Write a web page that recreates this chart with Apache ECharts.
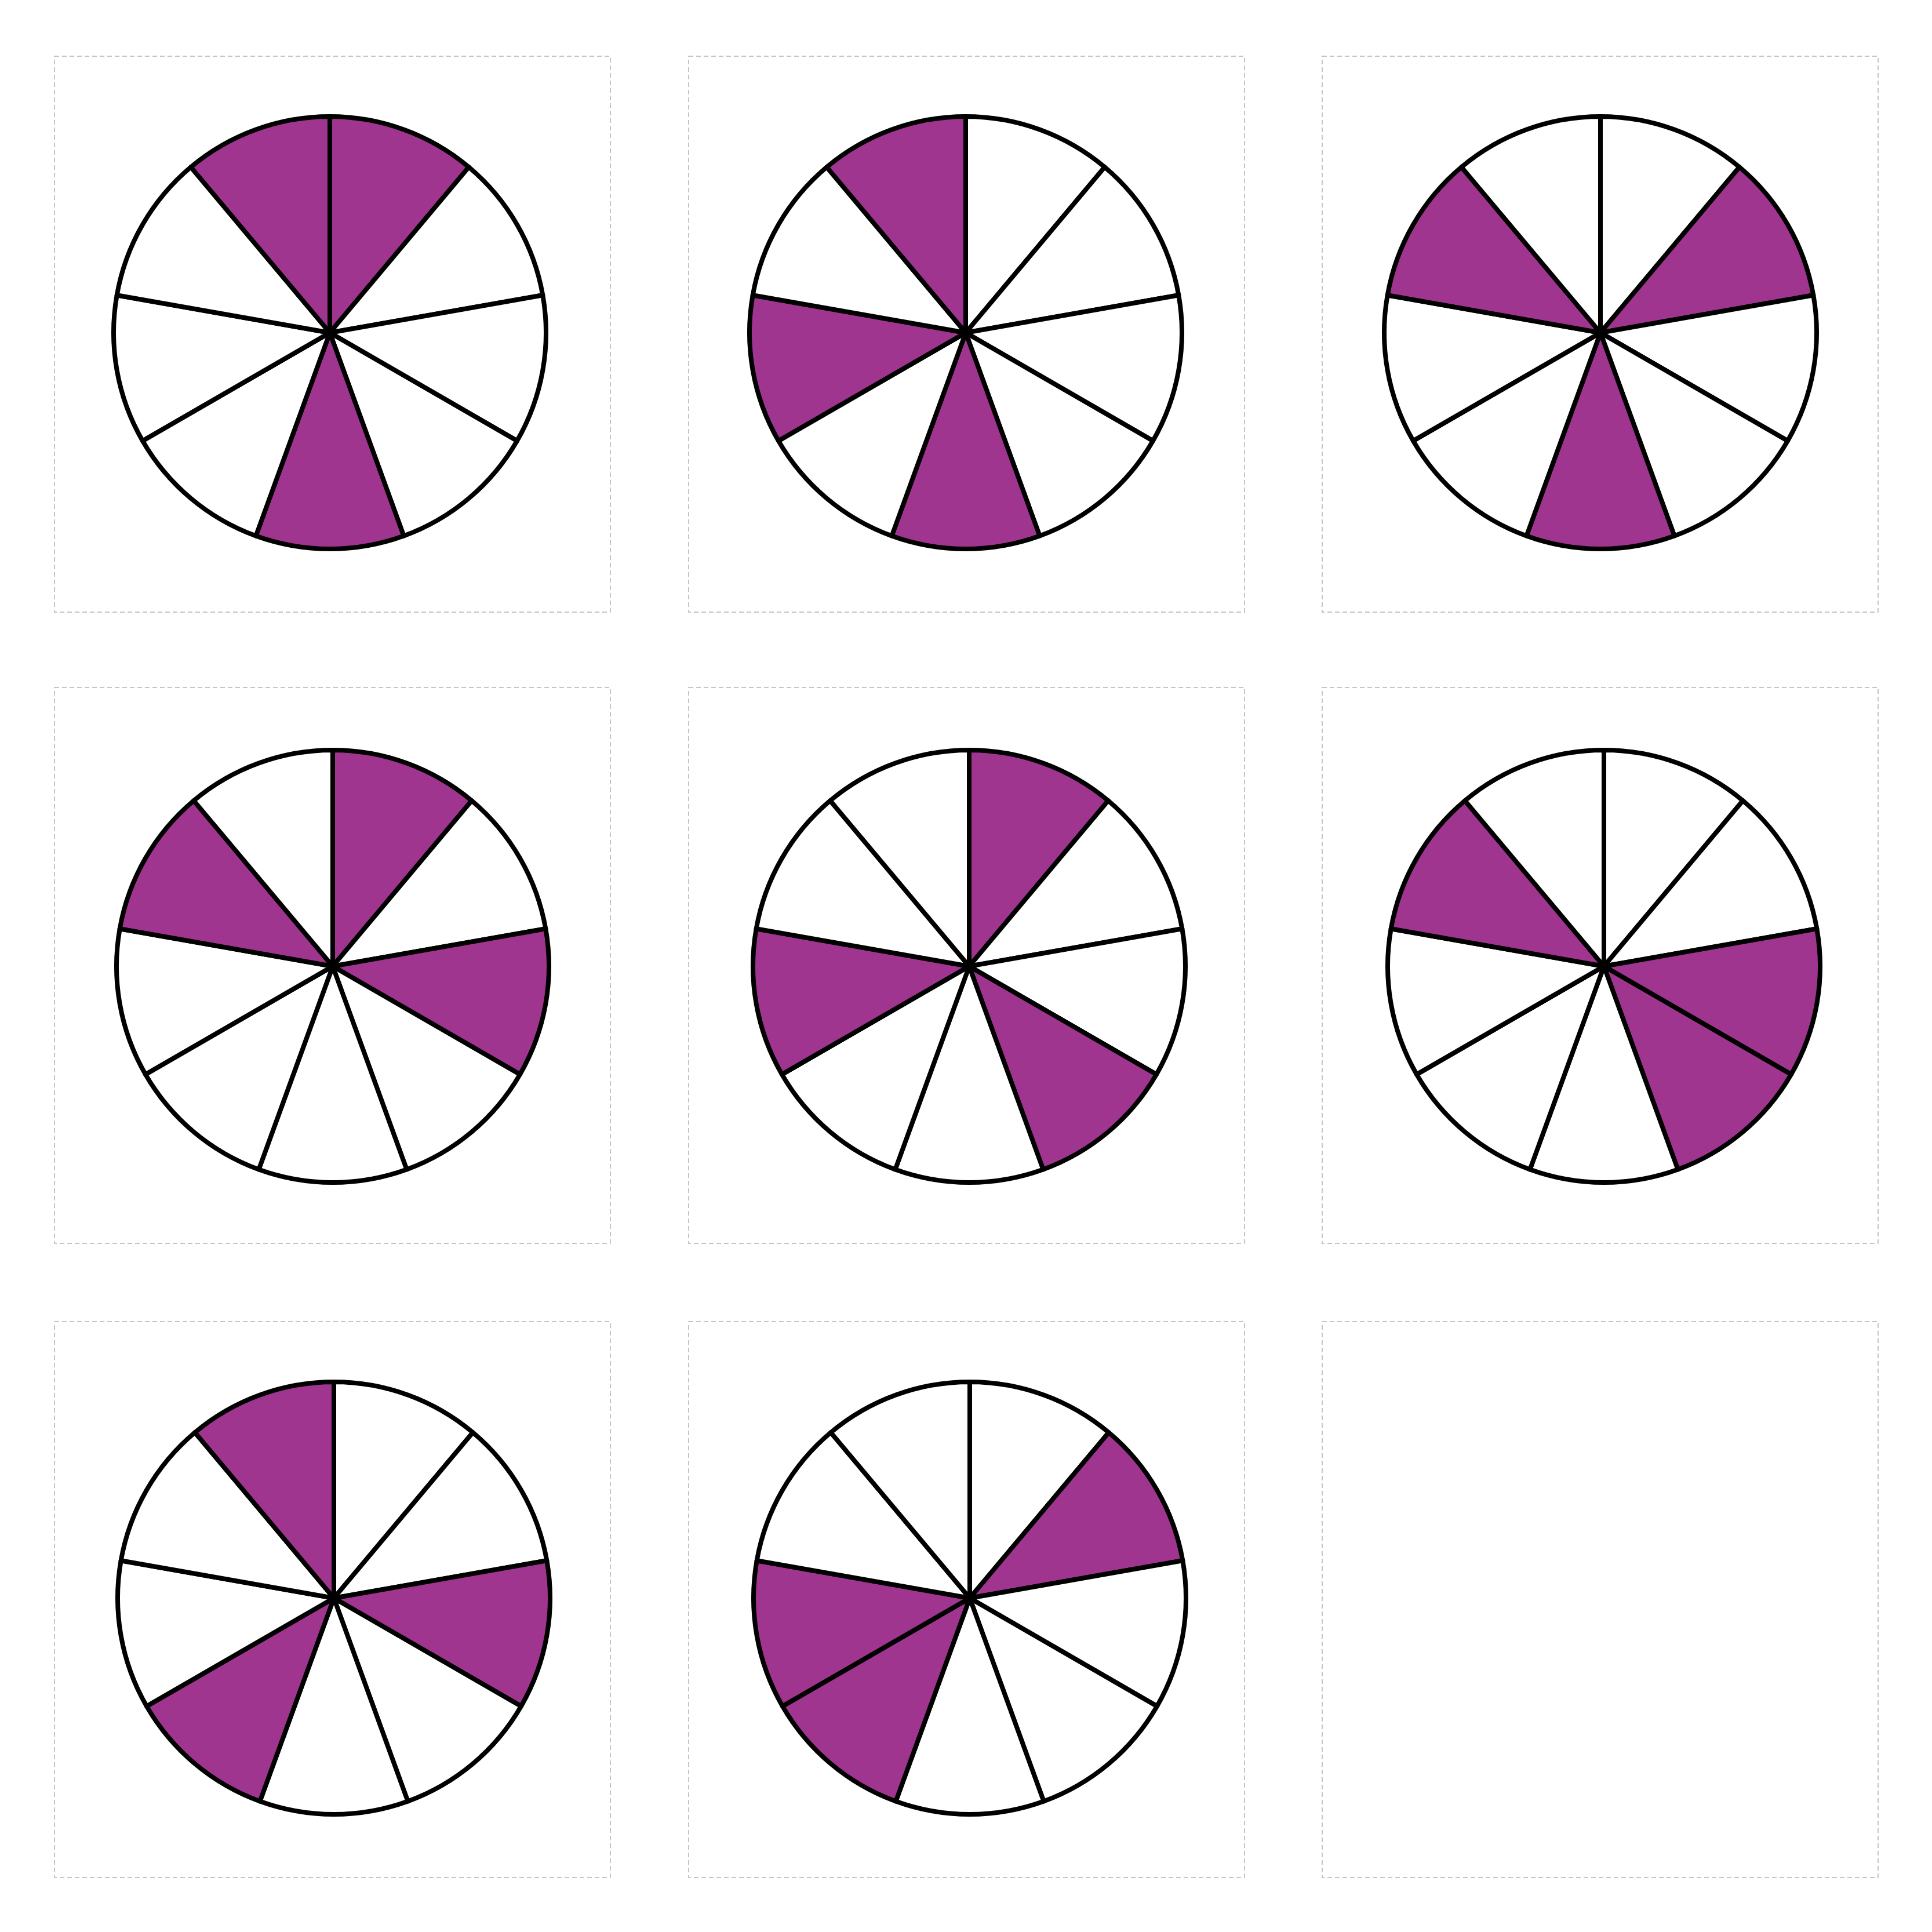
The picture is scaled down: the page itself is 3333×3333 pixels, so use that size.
<!DOCTYPE html>
<html>
<head>
<meta charset="utf-8">
<script src="https://cdn.jsdelivr.net/npm/echarts@6/dist/echarts.min.js"></script>
<style>
html,body{margin:0;padding:0;background:#fff;}
#chart{width:3333px;height:3333px;}
</style>
</head>
<body>
<div id="chart"></div>
<script>
// Each pie has 9 equal slices, numbered clockwise from 12 o'clock.
const sliceCount = 9;
const pie1Shaded = [0, 4, 8];
const pie2Shaded = [4, 6, 8];
const pie3Shaded = [1, 4, 7];
const pie4Shaded = [0, 2, 7];
const pie5Shaded = [0, 3, 6];
const pie6Shaded = [2, 3, 7];
const pie7Shaded = [2, 5, 8];
const pie8Shaded = [1, 5, 6];
const panels = [pie1Shaded, pie2Shaded, pie3Shaded, pie4Shaded, pie5Shaded, pie6Shaded, pie7Shaded, pie8Shaded, null];

const shadeColor = '#A0358F';
const boxX = [94, 1188, 2281];
const boxY = [97, 1186, 2280];
const boxSize = 959;
const radius = 373;
// pie centres (layout)
const centerX = [[569, 1666, 2761], [574, 1672, 2767], [576, 1673, 2767]];
const centerY = [574, 1667, 2757];

const series = [];
const graphics = [];
panels.forEach((shaded, i) => {
  const col = i % 3, row = Math.floor(i / 3);
  const x0 = boxX[col], y0 = boxY[row];
  graphics.push({
    type: 'rect', silent: true,
    shape: {x: x0, y: y0, width: boxSize, height: boxSize},
    style: {fill: null, stroke: '#b3b3b3', lineWidth: 1.5, lineDash: [8, 5]}
  });
  if (!shaded) return;
  const data = [];
  for (let k = 0; k < sliceCount; k++) {
    data.push({
      value: 1,
      itemStyle: {color: shaded.includes(k) ? shadeColor : '#ffffff'}
    });
  }
  series.push({
    type: 'pie',
    center: [centerX[row][col], centerY[row]],
    radius: [0, radius],
    startAngle: 90,
    clockwise: true,
    silent: true,
    label: {show: false},
    labelLine: {show: false},
    emphasis: {disabled: true},
    itemStyle: {borderColor: '#000000', borderWidth: 8},
    data: data
  });
});

const chart = echarts.init(document.getElementById('chart'), null, {renderer: 'canvas'});
chart.setOption({
  backgroundColor: '#ffffff',
  animation: false,
  graphic: graphics,
  series: series
});
</script>
</body>
</html>
